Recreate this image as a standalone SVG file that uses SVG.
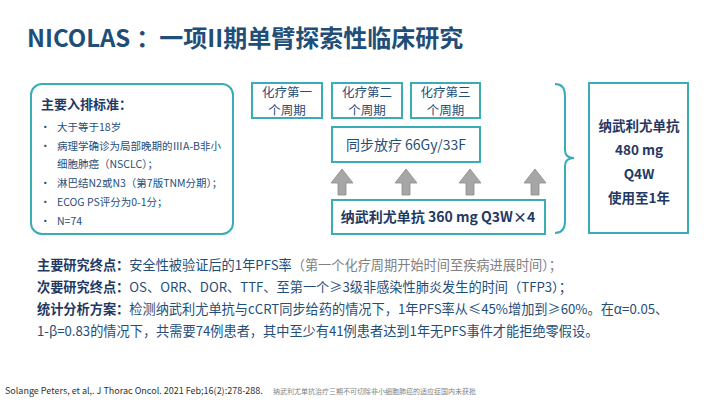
<svg xmlns="http://www.w3.org/2000/svg" width="720" height="405" viewBox="0 0 720 405">
<style>
.t{font-family:"Noto Sans CJK SC","Noto Sans",sans-serif;}
.box{fill:#fff;stroke:#3AACB6;stroke-width:2;}
.dk{fill:#1F4E79;}
.nv{fill:#1F3864;}
.gr{fill:#808080;}
.arr{fill:#A6A6A6;stroke:#8C8C8C;stroke-width:0.8;}
.cy{font-size:12.5px;text-anchor:middle;}
</style>
<defs>
<polygon id="up" points="0,-13 11,1 4,1 4,13 -4,13 -4,1 -11,1" class="arr"/>
</defs>
<rect width="720" height="405" fill="#fff"/>
<text class="t" x="27" y="47" font-size="24" font-weight="bold" fill="#1F4E79">NICOLAS<tspan dx="6">：</tspan><tspan dx="-1">一项II期单臂探索性临床研究</tspan></text>

<g id="criteria">
<rect class="box" x="31" y="84" width="202" height="150" rx="11"/>
<text class="t nv" x="41" y="109" font-size="13" font-weight="bold">主要入排标准：</text>
<g class="t dk" font-size="10.5">
<text x="40" y="131">•</text><text x="57" y="131">大于等于18岁</text>
<text x="40" y="150">•</text><text x="57" y="150">病理学确诊为局部晚期的ⅢA-B非小</text>
<text x="57" y="168">细胞肺癌（NSCLC）；</text>
<text x="40" y="187">•</text><text x="57" y="187">淋巴结N2或N3（第7版TNM分期）；</text>
<text x="40" y="206">•</text><text x="57" y="206">ECOG PS评分为0-1分；</text>
<text x="40" y="225">•</text><text x="57" y="225">N=74</text>
</g>
</g>

<g id="chemo1">
<rect class="box" x="252" y="83" width="70" height="35"/>
<text class="t dk cy" x="287" y="97">化疗第一</text>
<text class="t dk cy" x="287" y="115">个周期</text>
</g>
<g id="chemo2">
<rect class="box" x="332" y="83" width="70" height="35"/>
<text class="t dk cy" x="367" y="97">化疗第二</text>
<text class="t dk cy" x="367" y="115">个周期</text>
</g>
<g id="chemo3">
<rect class="box" x="411" y="83" width="69" height="35"/>
<text class="t dk cy" x="445.5" y="97">化疗第三</text>
<text class="t dk cy" x="445.5" y="115">个周期</text>
</g>
<g id="radio">
<rect class="box" x="332" y="127" width="148" height="35"/>
<text class="t dk" x="406" y="150" font-size="14" text-anchor="middle">同步放疗 66Gy/33F</text>
</g>

<g id="connectors">
<use href="#up" x="342" y="182"/>
<use href="#up" x="406" y="182"/>
<use href="#up" x="470" y="182"/>
<use href="#up" x="535" y="182"/>
<path d="M555,84 Q565,84 565,96 L565,150 Q565,158 574,158 Q565,158 565,166 L565,221 Q565,233 555,233" fill="none" stroke="#3AACB6" stroke-width="2"/>
</g>

<g id="nivo">
<rect class="box" x="332" y="200" width="213" height="34"/>
<text class="t nv" x="438" y="222" font-size="14" font-weight="bold" text-anchor="middle">纳武利尤单抗 360 mg Q3W×4</text>
</g>

<g id="maint">
<rect class="box" x="589" y="83" width="99" height="150"/>
<g class="t nv" font-size="13.5" font-weight="bold" text-anchor="middle">
<text x="639" y="131">纳武利尤单抗</text>
<text x="639" y="155">480 mg</text>
<text x="639" y="179">Q4W</text>
<text x="639" y="203">使用至1年</text>
</g>
</g>

<g class="t" font-size="13.2">
<text x="37" y="270"><tspan class="nv" font-weight="bold">主要研究终点：</tspan><tspan class="dk">安全性被验证后的1年PFS率</tspan><tspan class="gr">（第一个化疗周期开始时间至疾病进展时间）；</tspan></text>
<text x="37" y="292"><tspan class="nv" font-weight="bold">次要研究终点：</tspan><tspan class="dk">OS、ORR、DOR、TTF、至第一个≥3级非感染性肺炎发生的时间（TFP3）；</tspan></text>
<text x="37" y="314"><tspan class="nv" font-weight="bold">统计分析方案：</tspan><tspan class="dk">检测纳武利尤单抗与cCRT同步给药的情况下，1年PFS率从≤45%增加到≥60%。在α=0.05、</tspan></text>
<text x="37" y="336" class="dk">1-β=0.83的情况下，共需要74例患者，其中至少有41例患者达到1年无PFS事件才能拒绝零假设。</text>
</g>

<text class="t" x="5" y="394" font-size="9" fill="#333">Solange Peters, et al,. J Thorac Oncol. 2021 Feb;16(2):278-288.</text>
<text class="t" x="273" y="394" font-size="7" fill="#7F7F7F">纳武利尤单抗治疗三期不可切除非小细胞肺癌的适应症国内未获批</text>
</svg>
